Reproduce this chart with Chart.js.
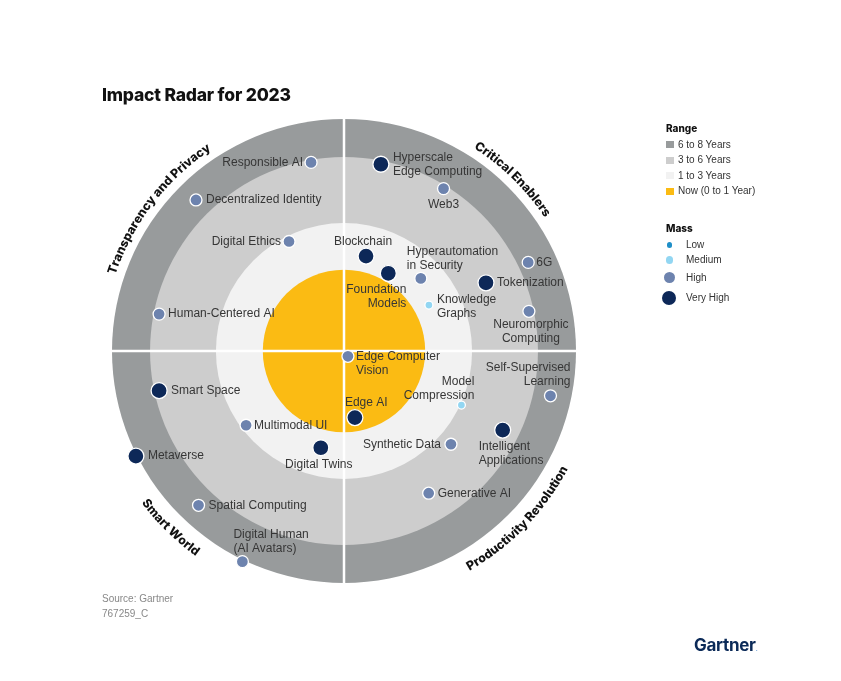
<!DOCTYPE html>
<html>
<head>
<meta charset="utf-8">
<script src="https://cdn.jsdelivr.net/npm/chart.js@4/dist/chart.umd.min.js"></script>
<style>
  html,body{margin:0;padding:0;background:#fff;}
  #wrap{position:relative;width:841px;height:681px;overflow:hidden;font-family:"Liberation Sans",Arial,sans-serif;}
  #c{position:absolute;left:0;top:0;}
  .abs{position:absolute;white-space:nowrap;}
  #title{left:102px;top:84px;font-family:Inter,sans-serif;font-weight:800;font-size:17.5px;color:#111;letter-spacing:-0.2px;}
  .lgh{font-family:Inter,sans-serif;font-weight:800;font-size:10px;color:#111;}
  .lgt{font-size:10px;color:#333;line-height:12px;}
  .sw{position:absolute;width:8px;height:7px;}
  .dot{position:absolute;border-radius:50%;}
  .src{font-size:10px;color:#888;}
  #logo{left:694px;top:635px;font-family:Inter,sans-serif;font-weight:700;font-size:17px;color:#0b2a58;letter-spacing:-0.3px;}
</style>
</head>
<body>
<div id="wrap">
  <canvas id="c" width="841" height="681"></canvas>
  <div id="title" class="abs">Impact Radar for 2023</div>
  <div id="legend"></div>
  <div class="abs src" style="left:102px;top:593px;">Source: Gartner</div>
  <div class="abs src" style="left:102px;top:608px;">767259_C</div>
  <div id="logo" class="abs">Gartner<span style="color:#3b7fc4;font-size:6px;">.</span></div>
</div>
<script>
// ---------------- DATA ----------------
const rangeLabels = ["Now (0 to 1 Year)", "1 to 3 Years", "3 to 6 Years", "6 to 8 Years"];
const rangeOuterRadius = [35, 55.2, 83.6, 100];          // ring boundaries (radar units, outer = 100)
const massLevels = ["Low", "Medium", "High", "Very High"];
const sectorNames = ["Critical Enablers", "Transparency and Privacy", "Smart World", "Productivity Revolution"];

const techNames = [
  "Responsible AI", "Decentralized Identity", "Digital Ethics", "Human-Centered AI",
  "Hyperscale\nEdge Computing", "Web3", "Blockchain", "Foundation\nModels",
  "Hyperautomation\nin Security", "6G", "Tokenization", "Knowledge\nGraphs",
  "Neuromorphic\nComputing", "Edge Computer\nVision", "Edge AI", "Model\nCompression",
  "Self-Supervised\nLearning", "Intelligent\nApplications", "Synthetic Data", "Generative AI",
  "Smart Space", "Multimodal UI", "Digital Twins", "Metaverse",
  "Spatial Computing", "Digital Human\n(AI Avatars)"
];
const techX = [
  -14.2, -63.8, -23.7, -79.7,
   15.9,  42.9,   9.5,  19.1,
   33.1,  79.4,  61.2,  36.6,
   79.7,   1.7,   4.7,  50.6,
   89.0,  68.4,  46.1,  36.5,
  -79.7, -42.2, -10.0, -89.7,
  -62.7, -43.8
];
const techY = [
   81.3,  65.1,  47.2,  15.9,
   80.5,  70.0,  40.9,  33.5,
   31.3,  38.2,  29.4,  19.8,
   17.1,  -2.3, -28.7, -23.3,
  -19.3, -34.1, -40.2, -61.3,
  -17.1, -32.0, -41.7, -45.3,
  -66.5, -90.8
];
const techMass = [
  "High", "High", "High", "High",
  "Very High", "High", "Very High", "Very High",
  "High", "High", "Very High", "Medium",
  "High", "High", "Very High", "Medium",
  "High", "Very High", "High", "High",
  "Very High", "High", "Very High", "Very High",
  "High", "High"
];

// ---------------- STYLE ----------------
const ringColors = ["#fbbb13", "#f2f2f2", "#cdcdcd", "#989b9c"];
const massColors = {"Low": "#1f8fc8", "Medium": "#92d6f2", "High": "#6d83ae", "Very High": "#0d2858"};
const massRadius = {"Low": 2.7, "Medium": 4, "High": 6, "Very High": 8};
const sectorText = {  // midAngle (deg, math), baseline radius (px), tops outward?
  "Critical Enablers": {mid: 45.5, r: 241, out: true},
  "Transparency and Privacy": {mid: 142.5, r: 241, out: true},
  "Smart World": {mid: 225.5, r: 253, out: false},
  "Productivity Revolution": {mid: 316, r: 253, out: false}
};
// label layout: [dx, dy of first line, align]
const labelLayout = [
  [-8, 0, "right"], [10, 0, "left"], [-8, 0, "right"], [9, 0, "left"],
  [12, -7, "left"], [0, 16, "center"], [-3, -14, "center"], [18, 16, "right"],
  [-14, -27, "left"], [8, 0, "left"], [11, 0, "left"], [8, -5, "left"],
  [2, 13, "center"], [8, 0, "left"], [-10, -15, "left"], [13, -23, "right"],
  [20, -28, "right"], [-24, 17, "left"], [-10, 0, "right"], [9, 0, "left"],
  [12, 0, "left"], [8, 0, "left"], [-2, 17, "center"], [12, 0, "left"],
  [10, 0, "left"], [-9, -27, "left"]
];

// ---------------- LEGEND (HTML) ----------------
(function(){
  const lg = document.getElementById('legend');
  let h = '<div class="abs lgh" style="left:666px;top:122px;">Range</div>';
  const order = [3,2,1,0];
  order.forEach((ri, k) => {
    const y = 144.5 + k*15.5;
    h += `<div class="sw" style="left:666px;top:${y-3.5}px;background:${ringColors[ri]};"></div>`;
    h += `<div class="abs lgt" style="left:678px;top:${y-6}px;">${rangeLabels[ri]}</div>`;
  });
  h += '<div class="abs lgh" style="left:666px;top:222px;">Mass</div>';
  const ys = [245, 260, 277.7, 297.5];
  massLevels.forEach((m, k) => {
    const r = {"Low":2.8,"Medium":3.6,"High":5.5,"Very High":7}[m];
    h += `<div class="dot" style="left:${669.3-r}px;top:${ys[k]-r}px;width:${2*r}px;height:${2*r}px;background:${massColors[m]};"></div>`;
    h += `<div class="abs lgt" style="left:686px;top:${ys[k]-6}px;">${m}</div>`;
  });
  lg.innerHTML = h;
})();

// ---------------- PLUGINS ----------------
function geo(chart){
  const x = chart.scales.x, y = chart.scales.y;
  const cx = x.getPixelForValue(0), cy = y.getPixelForValue(0);
  const unit = x.getPixelForValue(1) - cx;
  return {cx, cy, unit};
}
const ringPlugin = {
  id: 'rings',
  beforeDatasetsDraw(chart){
    const ctx = chart.ctx; const {cx, cy, unit} = geo(chart);
    ctx.save();
    for (let i = rangeOuterRadius.length - 1; i >= 0; i--) {
      ctx.beginPath(); ctx.arc(cx, cy, rangeOuterRadius[i]*unit, 0, Math.PI*2);
      ctx.fillStyle = ringColors[i]; ctx.fill();
    }
    const R = rangeOuterRadius[rangeOuterRadius.length-1]*unit;
    ctx.strokeStyle = '#ffffff'; ctx.lineWidth = 2.5;
    ctx.beginPath();
    ctx.moveTo(cx - R, cy); ctx.lineTo(cx + R, cy);
    ctx.moveTo(cx, cy - R); ctx.lineTo(cx, cy + R);
    ctx.stroke();
    ctx.restore();
  }
};
function arcText(ctx, text, cx, cy, r, midDeg, outward){
  const chars = [...text];
  const widths = chars.map(c => ctx.measureText(c).width);
  const total = widths.reduce((a,b)=>a+b, 0);
  const span = total / r;
  const mid = -midDeg * Math.PI / 180;
  let a = outward ? mid - span/2 : mid + span/2;
  chars.forEach((c, i) => {
    const w = widths[i];
    const ang = outward ? a + w/2/r : a - w/2/r;
    ctx.save();
    ctx.translate(cx + r*Math.cos(ang), cy + r*Math.sin(ang));
    ctx.rotate(outward ? ang + Math.PI/2 : ang - Math.PI/2);
    ctx.fillText(c, 0, 0);
    ctx.restore();
    a = outward ? a + w/r : a - w/r;
  });
}
const labelPlugin = {
  id: 'labels',
  afterDatasetsDraw(chart){
    const ctx = chart.ctx; const {cx, cy} = geo(chart);
    const xs = chart.scales.x, ys = chart.scales.y;
    ctx.save();
    ctx.font = '12px "Liberation Sans", Arial, sans-serif';
    ctx.fillStyle = '#363636';
    ctx.textBaseline = 'middle';
    techNames.forEach((n, i) => {
      const px = xs.getPixelForValue(techX[i]), py = ys.getPixelForValue(techY[i]);
      const [dx, dy, al] = labelLayout[i];
      ctx.textAlign = al;
      n.split('\n').forEach((line, k) => ctx.fillText(line, px + dx, py + dy + k*14));
    });
    ctx.font = '800 12.3px Inter, sans-serif';
    ctx.fillStyle = '#111';
    ctx.textAlign = 'center';
    ctx.textBaseline = 'alphabetic';
    sectorNames.forEach(s => {
      const t = sectorText[s];
      arcText(ctx, s, cx, cy, t.r, t.mid, t.out);
    });
    ctx.restore();
  }
};

// ---------------- CHART ----------------
const datasets = massLevels.map(m => {
  const pts = [];
  techNames.forEach((n, i) => { if (techMass[i] === m) pts.push({x: techX[i], y: techY[i]}); });
  return {
    label: m, data: pts,
    pointRadius: massRadius[m], pointHoverRadius: massRadius[m],
    backgroundColor: massColors[m], borderColor: '#ffffff', borderWidth: 1.3,
    clip: false
  };
});

new Chart(document.getElementById('c'), {
  type: 'scatter',
  data: {datasets},
  options: {
    responsive: false, animation: false,
    layout: {padding: {left: 112, right: 265, top: 119, bottom: 98}},
    scales: {
      x: {type: 'linear', min: -100, max: 100, display: false},
      y: {type: 'linear', min: -100, max: 100, display: false}
    },
    plugins: {legend: {display: false}, tooltip: {enabled: false}}
  },
  plugins: [ringPlugin, labelPlugin]
});
</script>
</body>
</html>
